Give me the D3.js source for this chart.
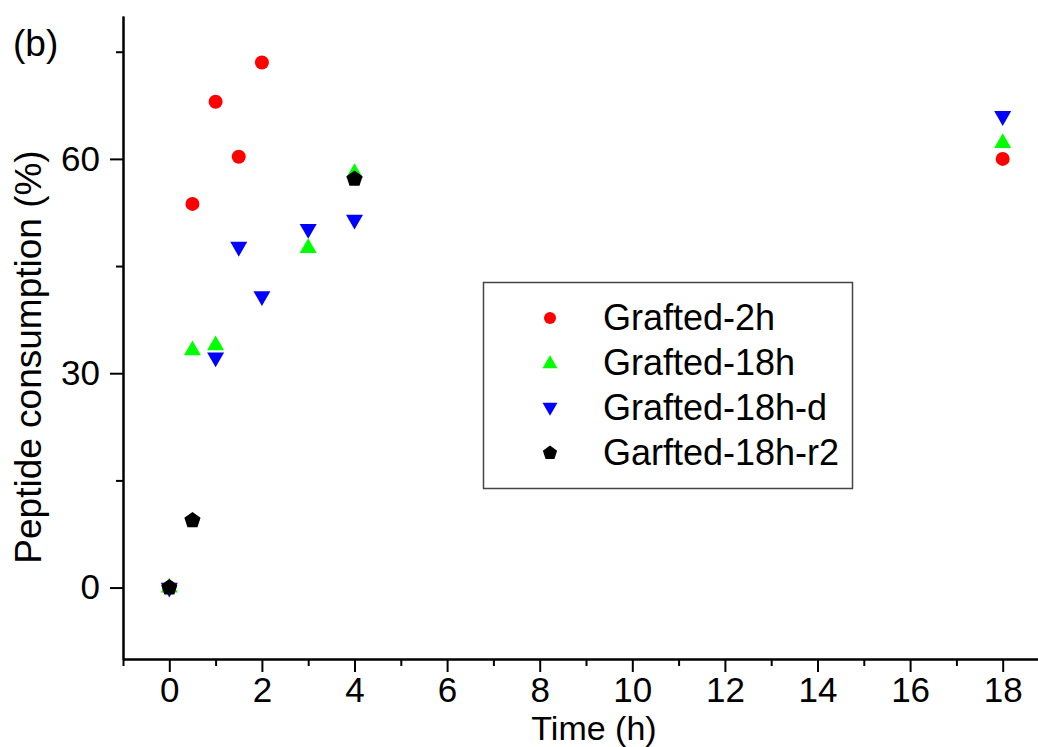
<!DOCTYPE html>
<html>
<head>
<meta charset="utf-8">
<script src="https://cdn.jsdelivr.net/npm/d3@7/dist/d3.min.js"></script>
<style>
  body { margin: 0; background: #fff; }
  svg { display: block; font-family: "Liberation Sans", Arial, sans-serif; }
</style>
</head>
<body>
<svg id="chart" width="1038" height="747"></svg>
<script>
// ---- data ----
const seriesNames = ["Grafted-2h", "Grafted-18h", "Grafted-18h-d", "Garfted-18h-r2"];
const grafted2hTime = [0, 0.5, 1, 1.5, 2, 18];
const grafted2hValue = [0, 53.7, 68.0, 60.3, 73.5, 60.0];
const grafted18hTime = [0, 0.5, 1, 3, 4, 18];
const grafted18hValue = [0, 33.2, 33.9, 47.5, 58.0, 62.2];
const grafted18hdTime = [0, 1, 1.5, 2, 3, 4, 18];
const grafted18hdValue = [0, 32.2, 47.7, 40.8, 50.2, 51.5, 66.0];
const garfted18hr2Time = [0, 0.5, 4];
const garfted18hr2Value = [0, 9.4, 57.2];
const xTickValues = [0, 2, 4, 6, 8, 10, 12, 14, 16, 18];
const xMinorTicks = [-1, 1, 3, 5, 7, 9, 11, 13, 15, 17, 19];
const yTickValues = [0, 30, 60];
const yMinorTicks = [15, 45, 75];

const colors = ["#ff0000", "#00ff00", "#0000ff", "#000000"];
const shapes = ["circle", "up", "down", "pentagon"];

const series = [
  {name: seriesNames[0], t: grafted2hTime, v: grafted2hValue},
  {name: seriesNames[1], t: grafted18hTime, v: grafted18hValue},
  {name: seriesNames[2], t: grafted18hdTime, v: grafted18hdValue},
  {name: seriesNames[3], t: garfted18hr2Time, v: garfted18hr2Value}
];

const svg = d3.select("#chart");
const x = d3.scaleLinear().domain([-1, 19]).range([123, 1049]);
const y = d3.scaleLinear().domain([-10, 80]).range([659, 16]);

function symbolPath(shape, s) {
  if (shape === "circle") return d3.symbol(d3.symbolCircle, Math.PI * (s/2) * (s/2))();
  if (shape === "up" || shape === "down") {
    const h = s * 0.87;
    const dir = shape === "up" ? 1 : -1;
    const p = [[0, -dir*2*h/3], [s/2, dir*h/3], [-s/2, dir*h/3]];
    return "M" + p.map(d => d.join(",")).join("L") + "Z";
  }
  if (shape === "pentagon") {
    const r = s / 2;
    const pts = d3.range(5).map(i => {
      const a = -Math.PI/2 + i * 2*Math.PI/5;
      return [r*Math.cos(a), r*Math.sin(a)];
    });
    return "M" + pts.map(d => d.join(",")).join("L") + "Z";
  }
}

// ---- axes ----
const axisStyle = g => {
  g.selectAll("path.domain").attr("stroke", "#000").attr("stroke-width", 2);
  g.selectAll(".tick line").attr("stroke", "#000").attr("stroke-width", 2);
  g.selectAll(".tick text").attr("fill", "#000").style("font-size", "35px")
   .style("font-family", "'Liberation Sans', Arial, sans-serif");
};

svg.append("g").attr("transform", `translate(0,${y(-10)})`)
  .call(d3.axisBottom(x).tickValues(xMinorTicks).tickSize(7).tickSizeOuter(0).tickFormat(""))
  .call(axisStyle);
svg.append("g").attr("transform", `translate(${x(-1)},0)`)
  .call(d3.axisLeft(y).tickValues(yMinorTicks).tickSize(7).tickSizeOuter(0).tickFormat(""))
  .call(axisStyle);

svg.append("g").attr("transform", `translate(0,${y(-10)})`)
  .call(d3.axisBottom(x).tickValues(xTickValues).tickSize(13).tickSizeOuter(0).tickPadding(5))
  .call(axisStyle);
svg.append("g").attr("transform", `translate(${x(-1)},0)`)
  .call(d3.axisLeft(y).tickValues(yTickValues).tickSize(13).tickSizeOuter(0).tickPadding(10))
  .call(axisStyle);

// ---- points ----
series.forEach((s, i) => {
  const pts = s.t.map((t, j) => ({t, v: s.v[j]}));
  svg.append("g").selectAll("path").data(pts).join("path")
    .attr("transform", d => `translate(${x(d.t)},${y(d.v)})`)
    .attr("d", symbolPath(shapes[i], i === 0 ? 14 : 17))
    .attr("fill", colors[i]);
});

// ---- axis titles ----
svg.append("text").attr("x", 594).attr("y", 740).attr("text-anchor", "middle")
  .style("font-size", "34px").text("Time (h)");
svg.append("text").attr("transform", `translate(41,357) rotate(-90)`).attr("text-anchor", "middle")
  .style("font-size", "37px").text("Peptide consumption (%)");
svg.append("text").attr("x", 13).attr("y", 56).style("font-size", "37px").text("(b)");

// ---- legend ----
const lg = svg.append("g");
lg.append("rect").attr("x", 483.5).attr("y", 282.5).attr("width", 369).attr("height", 206)
  .attr("fill", "#fff").attr("stroke", "#444").attr("stroke-width", 1.5);
seriesNames.forEach((n, i) => {
  const cy = 318 + i * 45;
  lg.append("path").attr("transform", `translate(550,${cy + (shapes[i]==="up" ? 1 : shapes[i]==="down" ? -1 : 0)})`)
    .attr("d", symbolPath(shapes[i], i === 0 ? 12 : 15)).attr("fill", colors[i]);
  lg.append("text").attr("x", 603).attr("y", cy + 12).style("font-size", "36px").text(n);
});
</script>
</body>
</html>
